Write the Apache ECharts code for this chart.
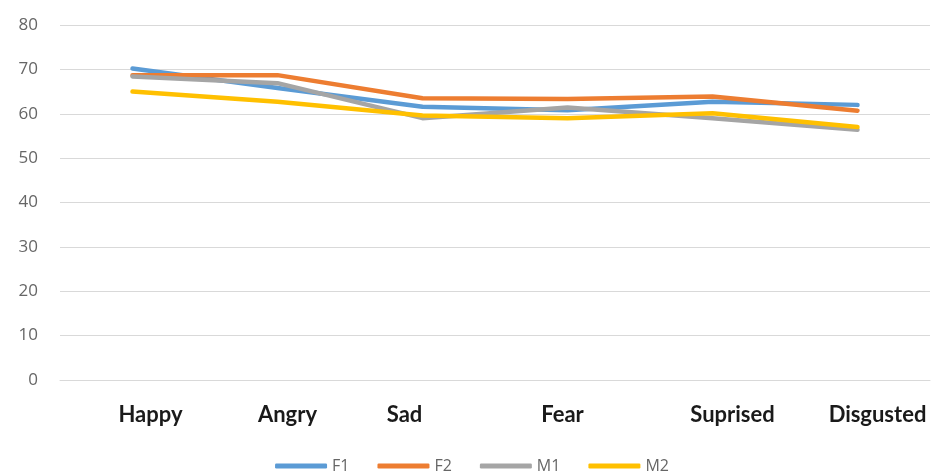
<!DOCTYPE html>
<html>
<head>
<meta charset="utf-8">
<script src="https://cdn.jsdelivr.net/npm/echarts@6/dist/echarts.min.js"></script>
<style>
  html, body { margin: 0; padding: 0; background: #fff; }
  #chart { width: 944px; height: 474px; }
</style>
</head>
<body>
<div id="chart"></div>
<script>
const categories = ["Happy", "Angry", "Sad", "Fear", "Suprised", "Disgusted"]
const f1 = [70.2, 65.8, 61.6, 60.8, 62.7, 62.0]
const f2 = [68.7, 68.7, 63.5, 63.3, 63.9, 60.7]
const m1 = [68.4, 66.9, 59.0, 61.4, 59.0, 56.4]
const m2 = [65.0, 62.7, 59.6, 59.0, 60.1, 57.0]
const yTicks = [0, 10, 20, 30, 40, 50, 60, 70, 80]

// labels in the source sit a little off their category centre
const labelShift = [18, 10, -18, -5, 20, 20]

const chart = echarts.init(document.getElementById("chart"))

const rich = {}
labelShift.forEach((s, i) => {
  rich["c" + i] = {
    fontFamily: "Lato",
    fontWeight: "bold",
    fontSize: 22,
    color: "#1a1a1a",
    padding: s > 0 ? [0, 0, 0, 2 * s] : [0, -2 * s, 0, 0],
  }
})

const mk = (name, data, color) => ({
  name,
  type: "line",
  data,
  symbol: "none",
  lineStyle: { color, width: 4.5, cap: "round", join: "round" },
  itemStyle: { color },
})

chart.setOption({
  animation: false,
  backgroundColor: "#fff",
  grid: { left: 60, right: 14, top: 25, bottom: 94 },
  xAxis: {
    type: "category",
    data: categories,
    boundaryGap: true,
    axisLine: { lineStyle: { color: "#d9d9d9", width: 1 } },
    axisTick: { show: false },
    axisLabel: {
      margin: 24,
      interval: 0,
      formatter: (v, i) => "{c" + i + "|" + v + "}",
      rich,
    },
  },
  yAxis: {
    type: "value",
    min: yTicks[0],
    max: yTicks[yTicks.length - 1],
    interval: 10,
    axisLine: { show: false },
    axisTick: { show: false },
    splitLine: { lineStyle: { color: "#d9d9d9", width: 1 } },
    axisLabel: { color: "#666666", fontSize: 17, fontFamily: "Open Sans", margin: 22 },
  },
  legend: {
    left: "center",
    top: 453,
    icon: "roundRect",
    itemWidth: 52,
    itemHeight: 5,
    itemGap: 28,
    textStyle: { color: "#666666", fontSize: 16, fontFamily: "Open Sans" },
    data: ["F1", "F2", "M1", "M2"],
  },
  series: [
    mk("F1", f1, "#5b9bd5"),
    mk("F2", f2, "#ed7d31"),
    mk("M1", m1, "#a5a5a5"),
    mk("M2", m2, "#ffc000"),
  ],
})
</script>
</body>
</html>
